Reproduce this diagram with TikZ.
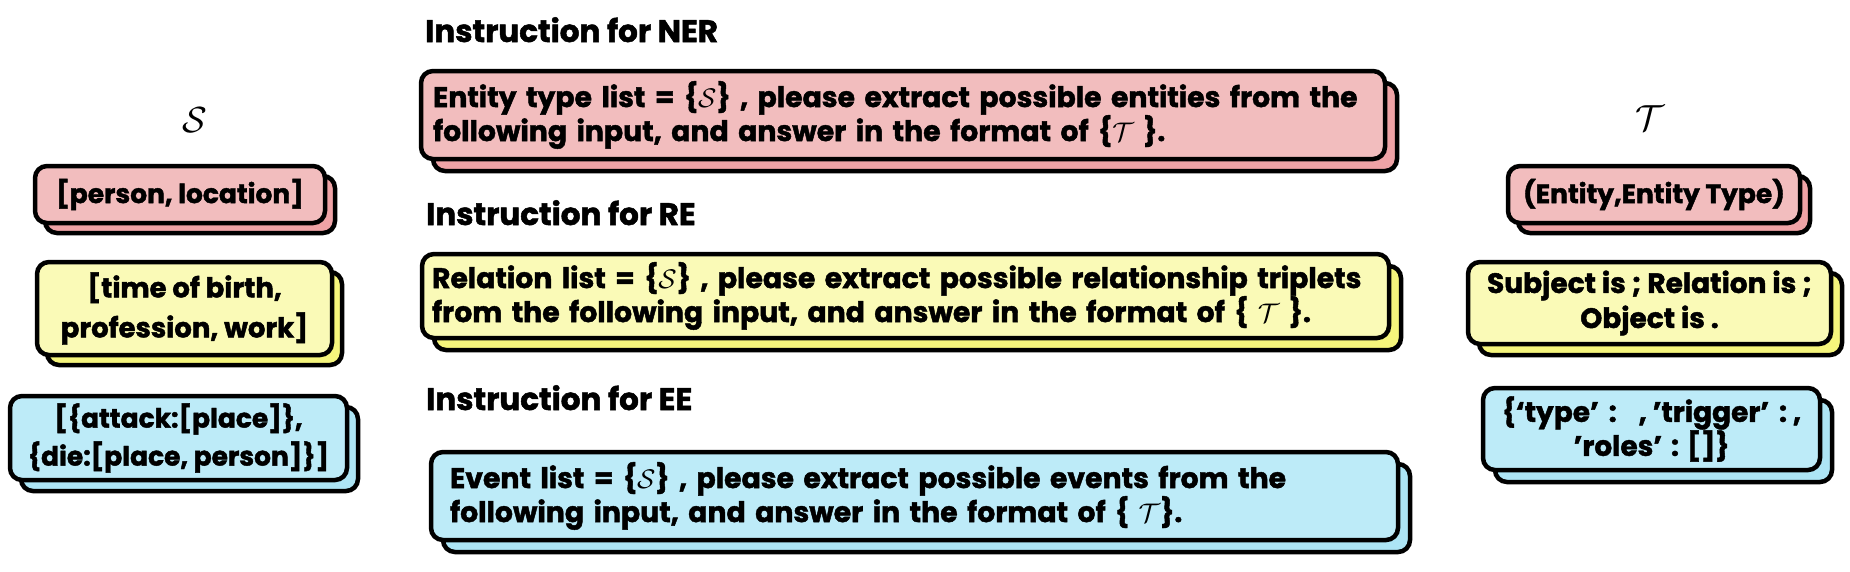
\documentclass[tikz,border=0pt]{standalone}
\usepackage{graphicx}
\usepackage{fontspec}
\setmainfont{Poppins}[BoldFeatures={FakeBold=1.6}]
\usetikzlibrary{shadows}
\newcommand{\bigcal}[2]{\scalebox{#2}{\fontsize{20.74}{24}\selectfont$\mathcal{#1}$}}
\definecolor{pinkF}{HTML}{F2BDBE}
\definecolor{pinkB}{HTML}{EFA3A6}
\definecolor{yelF}{HTML}{FAFAB7}
\definecolor{yelB}{HTML}{F5F57C}
\definecolor{bluF}{HTML}{BDEBF8}
\definecolor{bluB}{HTML}{ADE5F5}
\tikzset{
  card/.style={draw=black, line width=4.5pt, rounded corners=12pt, font=\bfseries},
  pinkcard/.style={card, fill=pinkF, copy shadow={draw=black, line width=4.5pt, fill=pinkB, shadow xshift=#1, shadow yshift=-#1}},
  yelcard/.style={card, fill=yelF, copy shadow={draw=black, line width=4.5pt, fill=yelB, shadow xshift=#1, shadow yshift=-#1}},
  blucard/.style={card, fill=bluF, copy shadow={draw=black, line width=4.5pt, fill=bluB, shadow xshift=#1, shadow yshift=-#1}},
  side/.style={align=center, inner sep=0pt, font=\bfseries\fontsize{26.5}{38}\selectfont},
  mid/.style={align=left, inner sep=0pt, font=\bfseries\fontsize{28.3}{34}\selectfont},
  title/.style={anchor=base west, inner sep=0pt, font=\bfseries\fontsize{31}{36}\selectfont},
  sym/.style={inner sep=0pt}
}
\begin{document}
\begin{tikzpicture}[x=1pt, y=-1pt]
\useasboundingbox (0,0) rectangle (1850,571);
% symbols
\node[sym] (S) at (195,120) {\bigcal{S}{1.75}};
\node[sym] (T) at (1650,118) {\bigcal{T}{1.75}};
% titles
\node[title] (tner) at (425,42) {Instruction for NER};
\node[title] (tre) at (426,225) {Instruction for RE};
\node[title] (tee) at (426,410) {Instruction for EE};
% left column
\node[pinkcard=10pt, side, minimum width=290pt, minimum height=57pt] (l1) at (180,194.5) {[person, location]};
\node[yelcard=10pt, side, minimum width=295pt, minimum height=93pt, font=\bfseries\fontsize{27.5}{40}\selectfont] (l2) at (184.5,308.5) {[time of birth,\\profession, work]};
\node[blucard=11pt, side, minimum width=337pt, minimum height=84pt] (l3) at (178.5,438) {[\{attack:[place]\},\\\{die:[place, person]\}]};
% right column
\node[pinkcard=10pt, side, minimum width=292pt, minimum height=57pt] (r1) at (1654,194.5) {(Entity,Entity Type)};
\node[yelcard=11pt, side, minimum width=363pt, minimum height=82pt, font=\bfseries\fontsize{28}{35}\selectfont] (r2) at (1649.5,303) {Subject is ; Relation is ;\\Object is .};
\node[blucard=12pt, side, minimum width=337pt, minimum height=82pt, font=\bfseries\fontsize{28}{34}\selectfont] (r3) at (1651.5,429) {\{‘type’\hspace{4pt} :\hspace{22pt}, ’trigger’\hspace{4pt} :\hspace{6pt},\\’roles’\hspace{3pt} : []\}};
% middle column
\node[pinkcard=12pt, mid, minimum width=964pt, minimum height=88pt, text width=940pt, inner xsep=12pt] (m1) at (903,115) {Entity type list = \{\bigcal{S}{1.3}\} , please extract possible entities from the\\following input, and answer in the format of \{\bigcal{T}{1.3} \}.};
\node[yelcard=12pt, mid, minimum width=967pt, minimum height=84pt, text width=947pt, inner xsep=10pt] (m2) at (905.5,296) {Relation list = \{\bigcal{S}{1.3}\} , please extract possible relationship triplets\\from the following input, and answer in the format of \{ \bigcal{T}{1.3} \}.};
\node[blucard=12pt, mid, minimum width=967pt, minimum height=88pt, text width=929pt, inner xsep=19pt] (m3) at (914.5,496) {Event list = \{\bigcal{S}{1.3}\} , please extract possible events from the\\following input, and answer in the format of \{ \bigcal{T}{1.3}\}.};
\end{tikzpicture}
\end{document}
